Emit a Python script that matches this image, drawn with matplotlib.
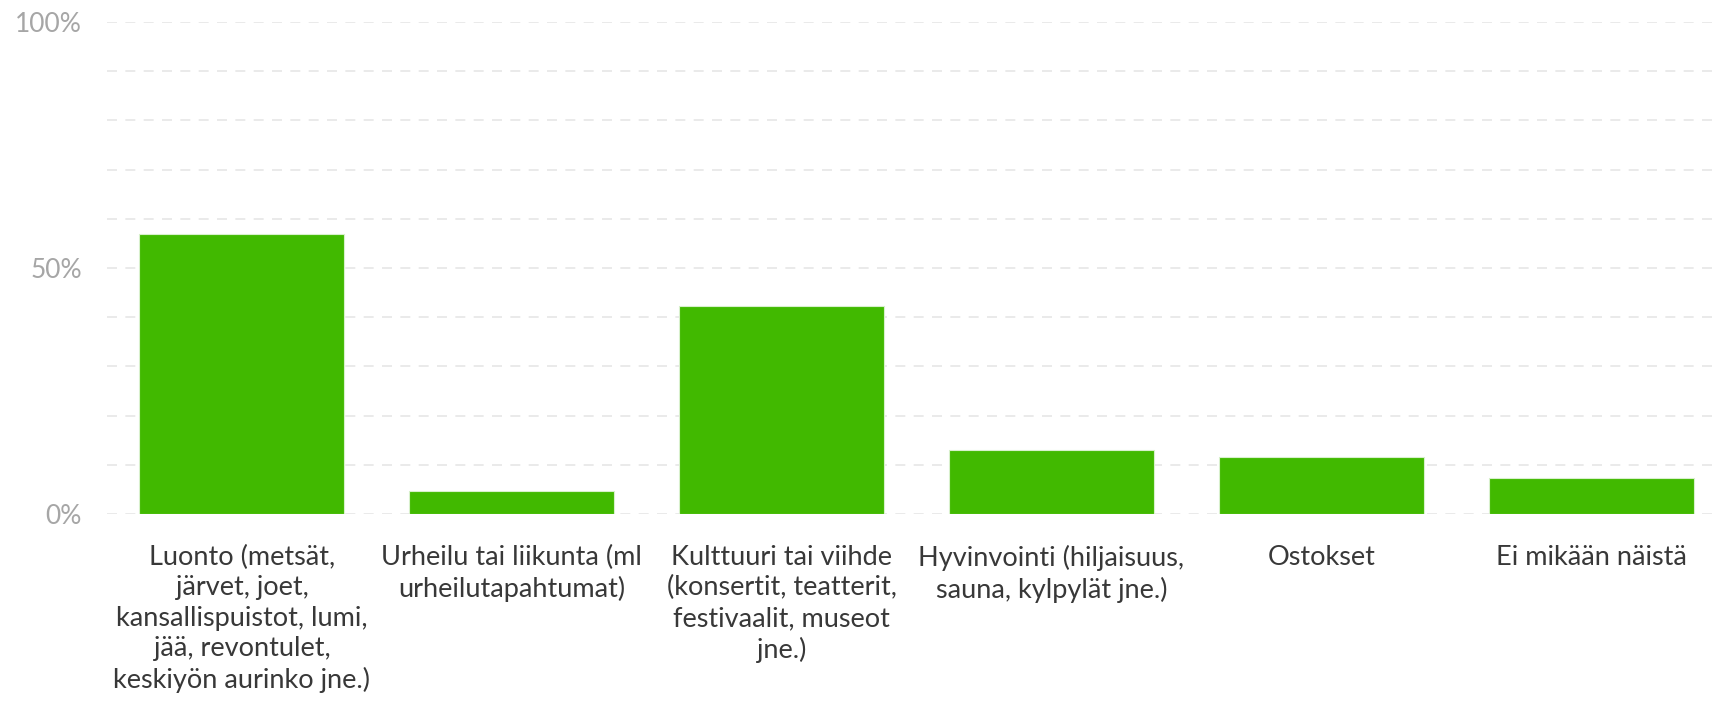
import matplotlib.pyplot as plt
from matplotlib.ticker import FixedLocator

# category labels (line breaks as in the chart) and shares in percent
categories = [
    "Luonto (metsät,\njärvet, joet,\nkansallispuistot, lumi,\njää, revontulet,\nkeskiyön aurinko jne.)",
    "Urheilu tai liikunta (ml\nurheilutapahtumat)",
    "Kulttuuri tai viihde\n(konsertit, teatterit,\nfestivaalit, museot\njne.)",
    "Hyvinvointi (hiljaisuus,\nsauna, kylpylät jne.)",
    "Ostokset",
    "Ei mikään näistä",
]
values = [57.0, 4.7, 42.3, 13.0, 11.5, 7.3]
y_ticks = [0, 50, 100]
y_tick_labels = ["0%", "50%", "100%"]

W, H = 1712, 710
fig = plt.figure(figsize=(W / 100, H / 100), dpi=100)
ax = fig.add_axes([107 / W, 1 - 514 / H, (W - 107) / W, (514 - 22) / H])

x = range(len(categories))
ax.bar(x, values, width=0.76, color="#41b900", edgecolor="#d8f0cc",
       linewidth=0.8, zorder=2)

ax.set_ylim(0, 100)
ax.set_xlim(-0.5, 5.5 - 14 / 270)

# dashed grid every 10%
ax.yaxis.set_minor_locator(FixedLocator(range(0, 101, 10)))
ax.grid(axis="y", which="both", color="#e6e6e6", linestyle=(0, (6, 5)),
        linewidth=1.2, zorder=0)
ax.set_yticks(y_ticks)
ax.set_yticklabels(y_tick_labels, fontsize=19, color="#a6a6a6", family="Lato")
ax.tick_params(axis="y", which="both", length=0, pad=18)

ax.set_xticks(list(x))
ax.set_xticklabels(categories, fontsize=19.5, color="#383838",
                   family="Lato", linespacing=1.28)
ax.tick_params(axis="x", length=0, pad=22)

for s in ax.spines.values():
    s.set_visible(False)

fig.savefig("out.png", dpi=100)
